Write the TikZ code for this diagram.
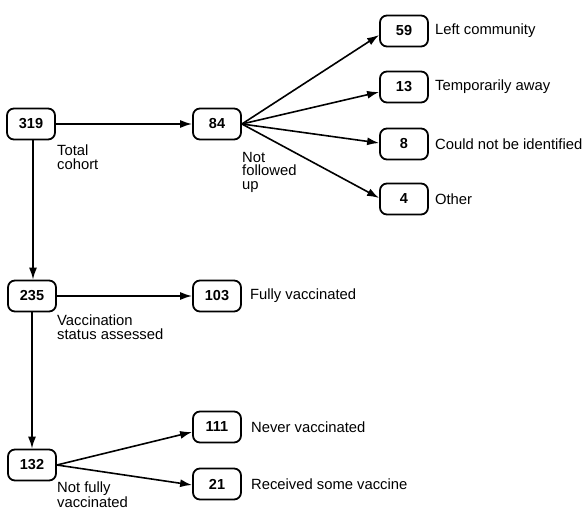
\documentclass[tikz,border=0pt]{standalone}
\usepackage{fontspec}
\setmainfont{Liberation Sans}
\usetikzlibrary{arrows.meta}
\begin{document}
\begin{tikzpicture}[x=1pt,y=-1pt,
  box/.style={draw, rounded corners=7pt, minimum width=48pt, minimum height=31pt,
    line width=1.8pt, inner sep=0pt, font=\bfseries\fontsize{14.5}{14}\selectfont},
  lab/.style={anchor=west, inner sep=0pt, font=\fontsize{14.8}{14}\selectfont},
  mlab/.style={anchor=north west, inner sep=0pt, align=left, font=\fontsize{14.8}{13.5}\selectfont},
  arr/.style={-{Latex[length=12pt,width=8pt]}, line width=1.6pt}]
\useasboundingbox (0,0) rectangle (588,510);
% boxes
\node[box] (n319) at (31,124) {319};
\node[box] (n84)  at (217,124) {84};
\node[box] (n59)  at (404,31) {59};
\node[box] (n13)  at (404,87) {13};
\node[box] (n8)   at (404,144) {8};
\node[box] (n4)   at (404,199) {4};
\node[box] (n235) at (32,296) {235};
\node[box] (n103) at (217,296) {103};
\node[box] (n111) at (217,427) {111};
\node[box] (n132) at (32,465) {132};
\node[box] (n21)  at (217,484) {21};
% side labels
\node[lab] (l59)  at ([xshift=6pt]n59.east) {Left community};
\node[lab] (l13)  at ([xshift=6pt]n13.east) {Temporarily away};
\node[lab] (l8)   at ([xshift=6pt]n8.east) {Could not be identified};
\node[lab] (l4)   at ([xshift=6pt]n4.east) {Other};
\node[lab] (l103) at ([xshift=8pt]n103.east) {Fully vaccinated};
\node[lab] (l111) at ([xshift=9pt]n111.east) {Never vaccinated};
\node[lab] (l21)  at ([xshift=9pt]n21.east) {Received some vaccine};
% lower labels
\node[mlab] (lt) at (57,145) {Total\\cohort};
\node[mlab] (lnf) at (242,152) {Not\\followed\\up};
\node[mlab] (lva) at (57,315) {Vaccination\\status assessed};
\node[mlab] (lnv) at (57,482) {Not fully\\vaccinated};
% connectors
\draw[arr] (n319.east) -- (n84.west);
\draw[arr] ([xshift=2pt]n319.south) -- ([xshift=1pt]n235.north);
\draw[arr] (n235.east) -- (n103.west);
\draw[arr] (n235.south) -- (n132.north);
\draw[arr] (n84.east) -- ([yshift=-4pt]n59.west);
\draw[arr] (n84.east) -- ([yshift=-5pt]n13.west);
\draw[arr] (n84.east) -- ([yshift=1pt]n8.west);
\draw[arr] (n84.east) -- ([yshift=1pt]n4.west);
\draw[arr] (n132.east) -- ([yshift=-5pt]n111.west);
\draw[arr] (n132.east) -- ([yshift=-1pt]n21.west);
\end{tikzpicture}
\end{document}
